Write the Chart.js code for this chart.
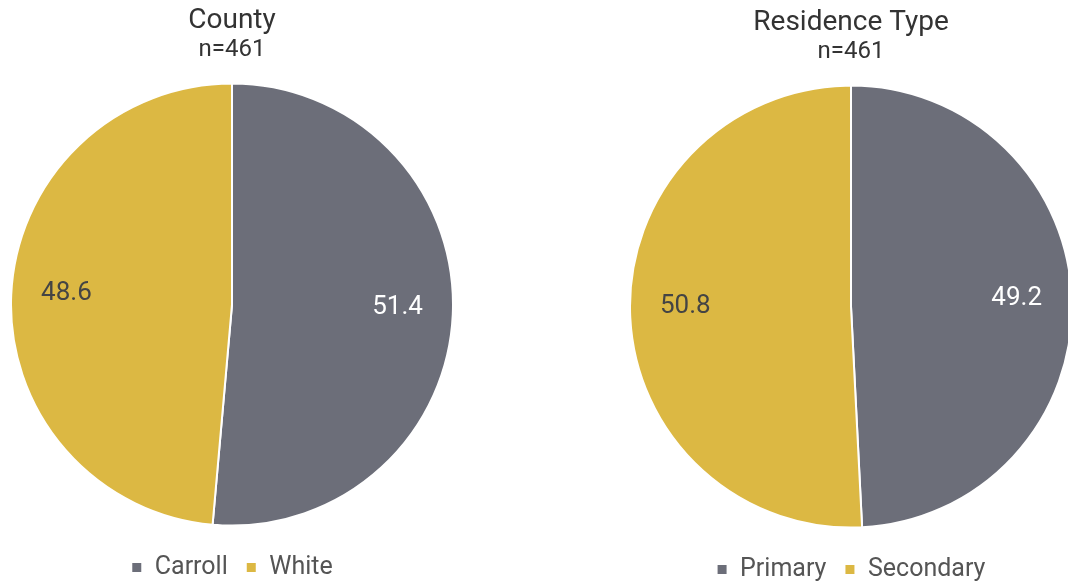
<!DOCTYPE html>
<html>
<head>
<meta charset="utf-8">
<script src="https://cdn.jsdelivr.net/npm/chart.js@4/dist/chart.umd.min.js"></script>
<style>
  html, body { margin: 0; padding: 0; background: #fff; overflow: hidden; }
  body { width: 1068px; height: 582px; position: relative; }
  .box { position: absolute; top: 0; height: 582px; }
  #left { left: 10px; width: 444px; }
  #right { left: 629px; top: 2px; width: 444px; }
</style>
</head>
<body>
<div class="box" id="left"><canvas id="countyChart"></canvas></div>
<div class="box" id="right"><canvas id="residenceChart"></canvas></div>
<script>
const countyLabels = ['Carroll', 'White'];
const countyValues = [51.4, 48.6];
const residenceLabels = ['Primary', 'Secondary'];
const residenceValues = [49.2, 50.8];
const sampleSize = 'n=461';

const grey = '#6c6e79';
const yellow = '#dcb843';

// draws the value inside each slice
const sliceLabels = {
    id: 'sliceLabels',
    afterDatasetsDraw(chart) {
        const c = chart.ctx;
        const meta = chart.getDatasetMeta(0);
        const vals = chart.data.datasets[0].data;
        c.save();
        c.font = '26px Roboto';
        c.textAlign = 'center';
        c.textBaseline = 'middle';
        meta.data.forEach((arc, i) => {
            const p = arc.getProps(['x', 'y', 'startAngle', 'endAngle', 'outerRadius']);
            const mid = (p.startAngle + p.endAngle) / 2;
            const r = p.outerRadius * 0.75;
            c.fillStyle = i === 0 ? '#ffffff' : '#444444';
            c.fillText(vals[i].toFixed(1), p.x + Math.cos(mid) * r, p.y + Math.sin(mid) * r - 4);
        });
        c.restore();
    }
};

function makePie(id, title, labels, values) {
    return new Chart(document.getElementById(id), {
        type: 'pie',
        data: {
            labels: labels,
            datasets: [{
                data: values,
                backgroundColor: [grey, yellow],
                borderColor: '#ffffff',
                borderWidth: 2
            }]
        },
        options: {
            responsive: true,
            maintainAspectRatio: false,
            animation: false,
            layout: { padding: { top: 0, bottom: -8 } },
            plugins: {
                title: {
                    display: true,
                    text: title,
                    color: '#333333',
                    font: { family: 'Roboto', size: 28, weight: 'normal', lineHeight: 1.1 },
                    padding: { top: 6, bottom: 0 }
                },
                subtitle: {
                    display: true,
                    text: sampleSize,
                    color: '#333333',
                    font: { family: 'Roboto', size: 24, weight: 'normal', lineHeight: 1.1 },
                    padding: { top: 0, bottom: 9 }
                },
                legend: {
                    position: 'bottom',
                    labels: {
                        color: '#555555',
                        font: { family: 'Roboto', size: 25 },
                        boxWidth: 11,
                        boxHeight: 11,
                        padding: 18
                    }
                },
                tooltip: { enabled: false }
            }
        },
        plugins: [sliceLabels]
    });
}

makePie('countyChart', 'County', countyLabels, countyValues);
makePie('residenceChart', 'Residence Type', residenceLabels, residenceValues);
</script>
</body>
</html>
